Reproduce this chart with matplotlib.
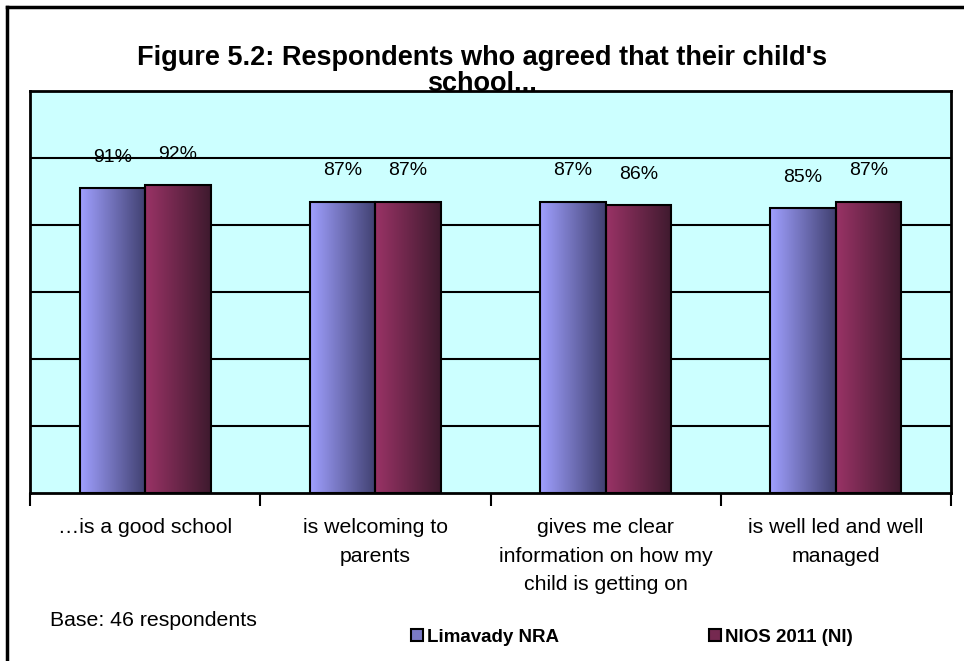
import matplotlib
matplotlib.use("Agg")
import matplotlib.pyplot as plt
import numpy as np
from matplotlib.patches import Rectangle
from matplotlib.colors import LinearSegmentedColormap

plt.rcParams["font.family"] = ["Liberation Sans", "DejaVu Sans"]

categories = ["\u2026is a good school", "is welcoming to\nparents",
              "gives me clear\ninformation on how my\nchild is getting on",
              "is well led and well\nmanaged"]
limavady = [91, 87, 87, 85]
nios = [92, 87, 86, 87]
series_names = ["Limavady NRA", "NIOS 2011 (NI)"]

blue_cmap = LinearSegmentedColormap.from_list("b", ["#A0A0FF", "#404070"])
maroon_cmap = LinearSegmentedColormap.from_list("m", ["#9A3366", "#3E1A2E"])

fig = plt.figure(figsize=(9.64, 6.61), dpi=100)
W, H = 964, 661
ax = fig.add_axes([30 / W, 1 - 493 / H, 921 / W, 402 / H])
ax.set_facecolor("#CCFFFF")

x = np.arange(len(categories))
w = 0.285
bars1 = ax.bar(x - w / 2, limavady, w, facecolor="none", edgecolor="black", linewidth=1.5, zorder=4)
bars2 = ax.bar(x + w / 2, nios, w, facecolor="none", edgecolor="black", linewidth=1.5, zorder=4)

grad = np.linspace(0, 1, 256).reshape(1, -1)
for bars, cmap in [(bars1, blue_cmap), (bars2, maroon_cmap)]:
    for b in bars:
        x0, y0 = b.get_x(), b.get_y()
        ax.imshow(grad, cmap=cmap, aspect="auto", zorder=3,
                  extent=[x0, x0 + b.get_width(), y0, y0 + b.get_height()])

for bars, vals in [(bars1, limavady), (bars2, nios)]:
    for b, v in zip(bars, vals):
        ax.annotate(f"{v}%", (b.get_x() + b.get_width() / 2, b.get_height()),
                    xytext=(0, 22), textcoords="offset points",
                    ha="center", va="center", fontsize=14)

ax.set_xlim(-0.5, len(categories) - 0.5)
ax.set_ylim(0, 120)
ax.set_yticks([])
for g in [20, 40, 60, 80, 100]:
    ax.axhline(g, color="black", linewidth=1.5, zorder=1)

ax.set_xticks(np.arange(-0.5, len(categories)))
ax.set_xticklabels([])
ax.set_xticks(x, minor=True)
ax.set_xticklabels(categories, minor=True, fontsize=15.3, linespacing=1.65)
ax.tick_params(axis="x", which="major", length=9, width=1.5, direction="out")
ax.tick_params(axis="x", which="minor", length=0, pad=18)
for s in ax.spines.values():
    s.set_linewidth(2)

fig.text(482 / W, 1 - 71 / H,
         "Figure 5.2: Respondents who agreed that their child's\nschool...",
         ha="center", va="center", fontsize=19.5, fontweight="bold", linespacing=0.98)
fig.text(50 / W, 1 - 620 / H, "Base: 46 respondents", ha="left", va="center", fontsize=15.3)

handles = [Rectangle((0, 0), 1, 1, facecolor=blue_cmap(0.4), edgecolor="black", linewidth=1.5),
           Rectangle((0, 0), 1, 1, facecolor=maroon_cmap(0.4), edgecolor="black", linewidth=1.5)]
fig.legend(handles, series_names, loc="center", bbox_to_anchor=(632 / W, 1 - 637 / H), ncol=2,
           frameon=False, prop={"weight": "bold", "size": 13.5},
           handlelength=0.65, handleheight=0.65, handletextpad=0.2, columnspacing=8.0)

# outer frame of the chart
fig.add_artist(plt.Line2D([7 / W, 7 / W], [0, 1 - 7 / H], color="black", linewidth=2.5))
fig.add_artist(plt.Line2D([7 / W, 1], [1 - 7 / H, 1 - 7 / H], color="black", linewidth=2.5))

fig.savefig("out.png", dpi=100)
